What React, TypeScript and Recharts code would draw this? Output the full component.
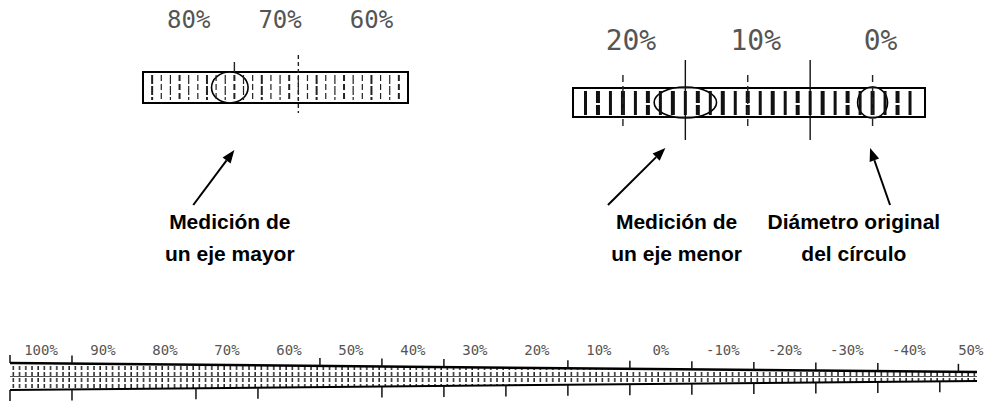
import React from "react";
import { ComposedChart, XAxis, YAxis, ReferenceArea, ReferenceLine, ReferenceDot } from "recharts";

// ---- upper-left rule: measuring the major axis ----
const mayorLabels = [80, 70, 60];
const mayorBox = [85, 56];
const mayorGrad = [84, 83, 82, 81, 80, 79, 78, 77, 76, 75, 74, 73, 72, 71, 70, 69, 68, 67, 66, 65, 64, 63, 62, 61, 60, 59, 58, 57];
const mayorTickUp = [75];
const mayorCut = [68];
const mayorEllipse = [77.5, 73.5];
const mayorArrow = [79.5, 75]; // tail, tip
const mayorTextAt = 75.5;
const mayorText = ["Medición de", "un eje mayor"];

// ---- upper-right rule: minor axis + original circle ----
const menorLabels = [20, 10, 0];
const menorBox = [24, -4.2];
const menorGrad = [23, 22, 21, 20, 19, 18, 17, 16, 15, 14, 13, 12, 11, 10, 9, 8, 7, 6, 5, 4, 3, 2, 1, 0, -1, -2, -3];
const menorTicksShort = [20, 10, 0];
const menorTicksLong = [15, 5];
const menorEllipse = [17.5, 12.5];
const menorCircle = [1.2, -1.2];
const menorArrow = [21.2, 16.6];
const circleArrow = [-1.4, 0.2];
const menorTextAt = 15.7;
const menorText = ["Medición de", "un eje menor"];
const circleTextAt = 1.5;
const circleText = ["Diámetro original", "del círculo"];

// ---- bottom rule ----
const bottomLabels = [100, 90, 80, 70, 60, 50, 40, 30, 20, 10, 0, -10, -20, -30, -40, -50];
const bottomLabelText = ["100%", "90%", "80%", "70%", "60%", "50%", "40%", "30%", "20%", "10%", "0%", "-10%", "-20%", "-30%", "-40%", "50%"];
const bottomRange = [105, -51];
const bottomTicksUp = [105, 95, 55, 45, 35, 15, 5, -5, -15, -25, -35, -48];
const bottomTicksDown = [105, 95, 75, 65, 45, 35, 25, 15, 5, -5, -15, -25, -35, -45];

const W = 1004;
const H = 413;
const AXIS_H = 40;
const dotFont = "'DejaVu Sans Mono', monospace";
const boldFont = "'Liberation Sans', Arial, sans-serif";

const pctTick = (y: number, size: number, dx = 0, labels?: string[], values?: number[]) => (p: any) => {
  const v = p.payload.value;
  const txt = labels && values ? labels[values.indexOf(v)] : `${v}%`;
  return (
    <text x={p.x + dx} y={y} textAnchor="middle" fontFamily={dotFont} fontSize={size} fill="#555">
      {txt}
    </text>
  );
};

const arrowShape = (p: any) => {
  const { x1, y1, x2, y2 } = p;
  const a = Math.atan2(y2 - y1, x2 - x1);
  const L = 13, hw = 5;
  const bx = x2 - L * Math.cos(a), by = y2 - L * Math.sin(a);
  const pts = `${x2},${y2} ${bx + hw * Math.sin(a)},${by - hw * Math.cos(a)} ${bx - hw * Math.sin(a)},${by + hw * Math.cos(a)}`;
  return (
    <g>
      <line x1={x1} y1={y1} x2={bx} y2={by} stroke="#000" strokeWidth={2} />
      <polygon points={pts} fill="#000" />
    </g>
  );
};

const textShape = (lines: string[]) => (p: any) => (
  <g>
    {lines.map((t, i) => (
      <text key={i} x={p.cx} y={p.cy + i * 32} textAnchor="middle" fontFamily={boldFont} fontWeight={700} fontSize={21} fill="#000">
        {t}
      </text>
    ))}
  </g>
);

const ellipseShape = (fill: string) => (p: any) => (
  <ellipse cx={p.x + p.width / 2} cy={p.y + p.height / 2} rx={Math.abs(p.width) / 2} ry={Math.abs(p.height) / 2}
    fill={fill} stroke="#000" strokeWidth={1.6} />
);

const seg = (x: number, y1: number, y2: number, key: string, props: any) => (
  <ReferenceLine key={key} segment={[{ x, y: y1 }, { x, y: y2 }]} ifOverflow="visible" {...props} />
);

// wedge shaped bottom strip (thicker on the left, thin on the right)
const TAPER = 9;
const wedgeShape = (p: any) => {
  const { x, y, width: w, height: h } = p;
  const pts = `${x},${y} ${x + w},${y + TAPER} ${x + w},${y + h - TAPER} ${x},${y + h}`;
  return (
    <g>
      <defs>
        <pattern id="bandHatch" patternUnits="userSpaceOnUse" width={6.2} height={6}>
          <line x1={1} y1={0} x2={1} y2={4} stroke="#222" strokeWidth={1.5} />
        </pattern>
      </defs>
      <polygon points={pts} fill="url(#bandHatch)" stroke="none" />
      <line x1={x} y1={y} x2={x + w} y2={y + TAPER} stroke="#000" strokeWidth={2.5} />
      <line x1={x} y1={y + h} x2={x + w} y2={y + h - TAPER} stroke="#000" strokeWidth={2} />
      <line x1={x} y1={y + h / 2} x2={x + w} y2={y + h / 2} stroke="#555" strokeWidth={1} />
    </g>
  );
};

const hiddenY = <YAxis hide type="number" domain={[AXIS_H, H]} reversed allowDataOverflow />;
const box: React.CSSProperties = { position: "absolute", top: 0 };

function MayorRule() {
  const [yTop, yBot] = [72, 103];
  return (
    <div style={{ ...box, left: 0 }}>
      <ComposedChart width={520} height={H} data={mayorLabels.map((v) => ({ v }))} margin={{ top: 0, right: 112, bottom: 0, left: 143 }}>
        <XAxis type="number" dataKey="v" domain={[mayorBox[1], mayorBox[0]]} reversed allowDataOverflow orientation="top" height={AXIS_H}
          ticks={mayorLabels} interval={0} axisLine={false} tickLine={false} tick={pctTick(28, 24)} />
        {hiddenY}
        <ReferenceArea x1={mayorBox[0]} x2={mayorBox[1]} y1={yTop} y2={yBot} fill="#fff" fillOpacity={1} stroke="#000" strokeWidth={2} ifOverflow="visible" />
        {mayorGrad.map((v, i) => seg(v, yTop + 3, yBot - 3, `g${v}`, { stroke: "#222", strokeWidth: i % 3 === 0 ? 2 : 1.2, strokeDasharray: i % 2 ? "6 3" : "9 2" }))}
        <ReferenceArea x1={mayorEllipse[0]} x2={mayorEllipse[1]} y1={yTop} y2={yBot} ifOverflow="visible" shape={ellipseShape("rgba(255,255,255,0.5)")} />
        {mayorTickUp.map((v) => seg(v, 62, yTop, `u${v}`, { stroke: "#222", strokeWidth: 1.4 }))}
        {mayorCut.map((v) => seg(v, 55, 113, `c${v}`, { stroke: "#222", strokeWidth: 1.4, strokeDasharray: "4 3" }))}
        <ReferenceLine segment={[{ x: mayorArrow[0], y: 205 }, { x: mayorArrow[1], y: 150 }]} ifOverflow="visible" shape={arrowShape} />
        <ReferenceDot x={mayorTextAt} y={229} r={0} ifOverflow="visible" shape={textShape(mayorText)} />
      </ComposedChart>
    </div>
  );
}

function MenorRule() {
  const [yTop, yBot] = [88, 117];
  return (
    <div style={{ ...box, left: 520 }}>
      <ComposedChart width={484} height={H} data={menorLabels.map((v) => ({ v }))} margin={{ top: 0, right: 79, bottom: 0, left: 53 }}>
        <XAxis type="number" dataKey="v" domain={[menorBox[1], menorBox[0]]} reversed allowDataOverflow orientation="top" height={AXIS_H}
          ticks={menorLabels} interval={0} axisLine={false} tickLine={false} tick={pctTick(50, 28, 8)} />
        {hiddenY}
        <ReferenceArea x1={menorBox[0]} x2={menorBox[1]} y1={yTop} y2={yBot} fill="#fff" fillOpacity={1} stroke="#000" strokeWidth={2} ifOverflow="visible" />
        {menorGrad.map((v, i) => seg(v, yTop + 3, yBot - 2, `g${v}`, { stroke: "#111", strokeWidth: i % 2 ? 4 : 3, strokeDasharray: i % 4 === 1 ? "12 2" : undefined }))}
        <ReferenceArea x1={menorEllipse[0]} x2={menorEllipse[1]} y1={yTop - 1} y2={yBot + 1} ifOverflow="visible" shape={ellipseShape("rgba(255,255,255,0.55)")} />
        <ReferenceArea x1={menorCircle[0]} x2={menorCircle[1]} y1={yTop - 1} y2={yBot + 1} ifOverflow="visible" shape={ellipseShape("rgba(255,255,255,0.55)")} />
        {menorTicksLong.map((v) => seg(v, 60, 140, `l${v}`, { stroke: "#111", strokeWidth: 1.4 }))}
        {menorTicksShort.map((v) => seg(v, 75, 130, `s${v}`, { stroke: "#222", strokeWidth: 1.4, strokeDasharray: "7 4" }))}
        <ReferenceLine segment={[{ x: menorArrow[0], y: 205 }, { x: menorArrow[1], y: 148 }]} ifOverflow="visible" shape={arrowShape} />
        <ReferenceLine segment={[{ x: circleArrow[0], y: 205 }, { x: circleArrow[1], y: 148 }]} ifOverflow="visible" shape={arrowShape} />
        <ReferenceDot x={menorTextAt} y={229} r={0} ifOverflow="visible" shape={textShape(menorText)} />
        <ReferenceDot x={circleTextAt} y={229} r={0} ifOverflow="visible" shape={textShape(circleText)} />
      </ComposedChart>
    </div>
  );
}

function BottomRule() {
  const [yTop, yBot] = [363, 390];
  const span = bottomRange[0] - bottomRange[1];
  const edgeTop = (v: number) => yTop + (TAPER * (bottomRange[0] - v)) / span;
  const edgeBot = (v: number) => yBot - (TAPER * (bottomRange[0] - v)) / span;
  return (
    <div style={{ ...box, left: 0 }}>
      <ComposedChart width={W} height={H} data={bottomLabels.map((v) => ({ v }))} margin={{ top: 0, right: 27, bottom: 0, left: 10 }}>
        <XAxis type="number" dataKey="v" domain={[bottomRange[1], bottomRange[0]]} reversed allowDataOverflow orientation="top" height={AXIS_H}
          ticks={bottomLabels} interval={0} axisLine={false} tickLine={false} tick={pctTick(355, 14, 0, bottomLabelText, bottomLabels)} />
        {hiddenY}
        <ReferenceArea x1={bottomRange[0]} x2={bottomRange[1]} y1={yTop} y2={yBot} ifOverflow="visible" shape={wedgeShape} />
        {bottomTicksUp.map((v) => seg(v, edgeTop(v) - 8, edgeTop(v), `u${v}`, { stroke: "#111", strokeWidth: 1.5 }))}
        {bottomTicksDown.map((v) => seg(v, edgeBot(v), edgeBot(v) + 11, `d${v}`, { stroke: "#111", strokeWidth: 1.5 }))}
      </ComposedChart>
    </div>
  );
}

export default function App() {
  return (
    <div style={{ position: "absolute", left: 0, top: 0, width: W, height: H, background: "#fff", overflow: "hidden" }}>
      <MayorRule />
      <MenorRule />
      <BottomRule />
    </div>
  );
}
